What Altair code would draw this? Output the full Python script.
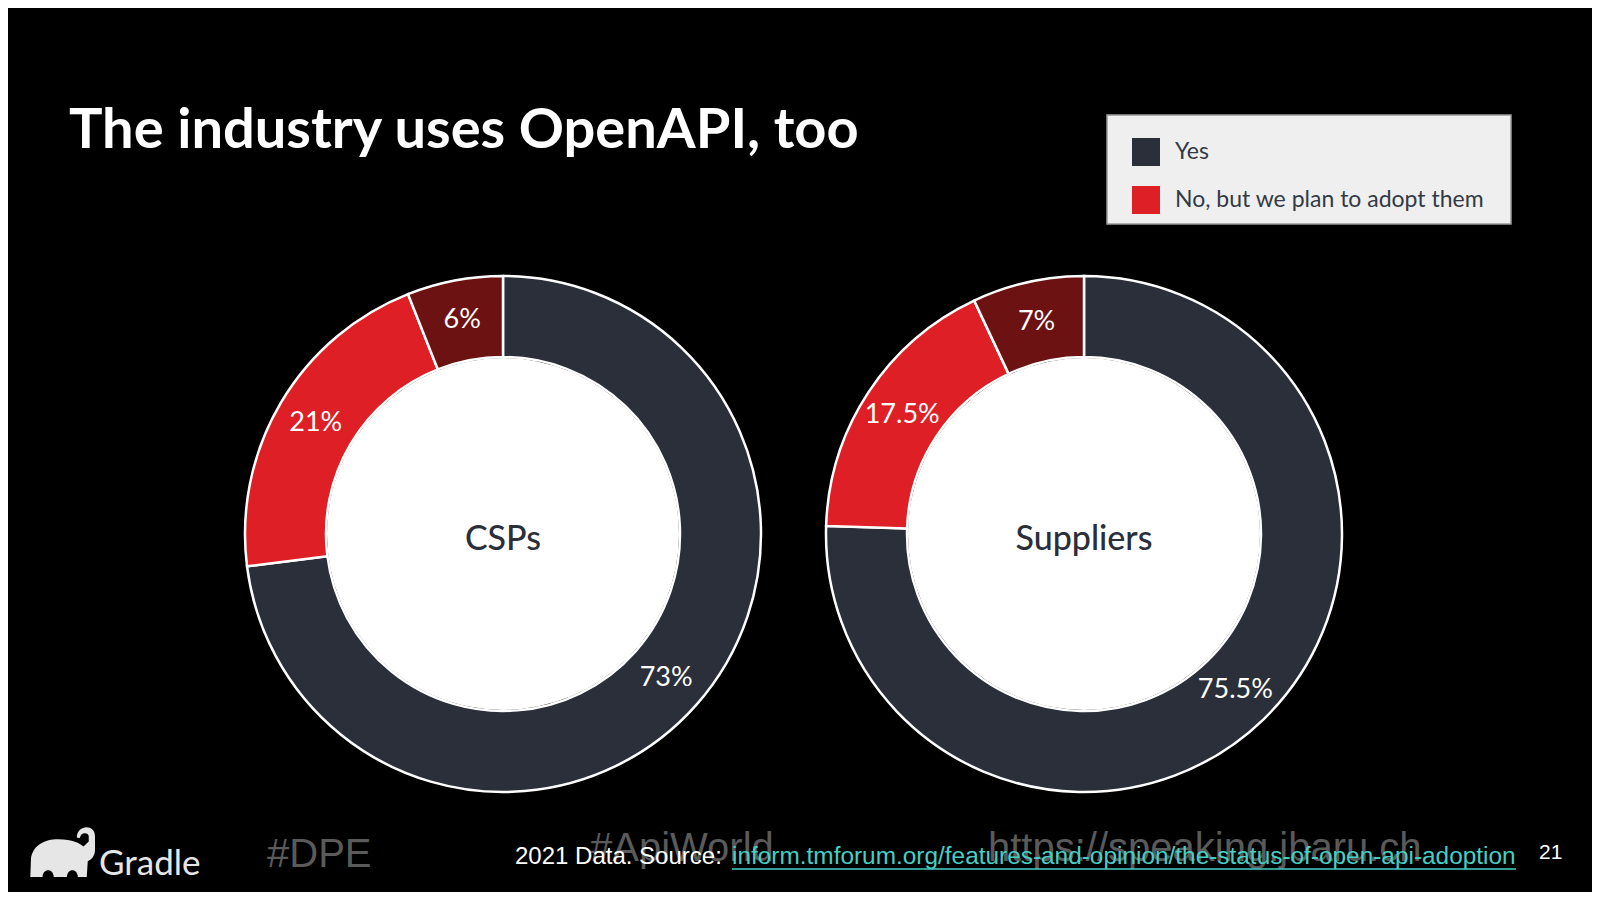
import math
import altair as alt
import pandas as pd

# ---------------- data ----------------
title_text = "The industry uses OpenAPI, too"
groups = ["CSPs", "Suppliers"]
categories = ["Yes", "No, but we plan to adopt them", "No, and no plans"]
colors = ["#2a2f3a", "#df1f26", "#6d1212"]
csp_values = [73, 21, 6]
csp_labels = ["73%", "21%", "6%"]
supplier_values = [75.5, 17.5, 7]
supplier_labels = ["75.5%", "17.5%", "7%"]

footer_brand = "Gradle"
footer_tag1 = "#DPE"
footer_tag2 = "#ApiWorld"
footer_site = "https://speaking.jbaru.ch"
footer_source = "2021 Data. Source:"
footer_link = "inform.tmforum.org/features-and-opinion/the-status-of-open-api-adoption"
page_number = "21"

rows = []
for g, vals, labs in [(groups[0], csp_values, csp_labels), (groups[1], supplier_values, supplier_labels)]:
    for i, (c, v, l) in enumerate(zip(categories, vals, labs)):
        rows.append({"group": g, "category": c, "value": v, "label": l, "order": i})
df = pd.DataFrame(rows)

W, H = 1584, 884
R_IN, R_OUT = 177, 258

color_scale = alt.Scale(domain=categories, range=colors)
legend = alt.Legend(
    values=categories[:2], orient="none", legendX=1124, legendY=130, direction="vertical",
    title=None, padding=0,
    symbolType="square", symbolSize=784, symbolStrokeWidth=0, symbolOpacity=1,
    labelFont="Lato", labelFontSize=23, labelColor="#333a45", labelOffset=15,
    rowPadding=20, labelLimit=600,
)


def one(txt, key="t"):
    return alt.Data(values=[{key: txt}])


# legend panel behind the legend entries
legend_box = alt.Chart(one("legend")).mark_rect(
    fill="#efefef", stroke="#9a9a9a", strokeWidth=1.5
).encode(x=alt.value(1099), x2=alt.value(1503), y=alt.value(107), y2=alt.value(216))


def donut(group, cx, cy):
    base = alt.Chart(df).transform_filter(alt.datum.group == group)
    arcs = base.mark_arc(innerRadius=R_IN, outerRadius=R_OUT, stroke="white", strokeWidth=2.5).encode(
        theta=alt.Theta("value:Q", stack=True, scale=alt.Scale(domain=[0, 100])),
        color=alt.Color("category:N", scale=color_scale, legend=legend),
        order=alt.Order("order:Q"),
        x=alt.value(cx), y=alt.value(cy),
    )
    hole = alt.Chart(one(group)).mark_arc(
        radius=R_IN - 1, theta=0, theta2=2 * math.pi, color="white"
    ).encode(x=alt.value(cx), y=alt.value(cy))
    center = alt.Chart(one(group)).mark_text(
        font="Lato", fontSize=34, fontWeight=500, color="#2a2f3a", baseline="middle", align="center"
    ).encode(text="t:N", x=alt.value(cx), y=alt.value(cy + 6))
    labels = base.mark_text(
        radius=(R_IN + R_OUT) / 2, font="Lato", fontSize=27, color="white",
        baseline="middle", align="center"
    ).encode(
        theta=alt.Theta("value:Q", stack=True, scale=alt.Scale(domain=[0, 100])),
        order=alt.Order("order:Q"),
        text="label:N",
        x=alt.value(cx), y=alt.value(cy),
    )
    return [arcs, hole, center, labels]


def text_layer(txt, x, y, size, color, font="Liberation Sans", weight="normal"):
    return alt.Chart(one(txt)).mark_text(
        font=font, fontSize=size, color=color, fontWeight=weight,
        align="left", baseline="alphabetic"
    ).encode(text="t:N", x=alt.value(x), y=alt.value(y))


title = text_layer(title_text, 61, 140, 56, "white", font="Lato", weight="bold")

elephant_path = (
    "M -0.99 0.73 L -0.97 0.15 C -0.9 -0.25 -0.55 -0.42 -0.15 -0.42 "
    "C 0.3 -0.42 0.5 -0.3 0.62 -0.2 L 0.78 -0.35 L 0.78 -0.5 "
    "C 0.78 -0.62 0.6 -0.62 0.55 -0.55 L 0.5 -0.45 L 0.42 -0.47 "
    "C 0.42 -0.85 0.97 -0.9 0.97 -0.5 L 0.97 -0.1 "
    "C 0.97 0.1 0.85 0.2 0.75 0.25 L 0.72 0.73 L 0.45 0.73 "
    "C 0.45 0.45 0.12 0.45 0.12 0.73 L -0.28 0.73 "
    "C -0.28 0.45 -0.62 0.45 -0.62 0.73 Z"
)
elephant = alt.Chart(one(footer_brand)).mark_point(
    shape=elephant_path, filled=True, size=66 * 66, color="#e6e6e6", opacity=1, strokeWidth=0
).encode(x=alt.value(55), y=alt.value(845))

footer = [
    elephant,
    text_layer(footer_brand, 91, 867, 35, "#e6e6e6", font="Lato"),
    text_layer(footer_tag1, 259, 859, 40, "#5a5a5a"),
    text_layer(footer_tag2, 582, 853, 40, "#5a5a5a"),
    text_layer(footer_site, 980, 853, 40, "#5a5a5a"),
    text_layer(footer_source, 507, 856, 24, "white"),
    text_layer(footer_link, 724, 856, 24.4, "#45d0c4"),
    alt.Chart(one(footer_link)).mark_rule(color="#45d0c4", strokeWidth=1.5).encode(
        x=alt.value(724), x2=alt.value(1508), y=alt.value(861)
    ),
    text_layer(page_number, 1531, 851, 21, "white"),
]

layers = [title, legend_box] + donut(groups[0], 495, 526) + donut(groups[1], 1076, 526) + footer

chart = alt.layer(*layers).properties(
    width=W, height=H, background="black", padding=0,
    autosize=alt.AutoSizeParams(type="none"),
).configure_view(strokeWidth=0)

chart.save("out.html", embed_options={"renderer": "svg", "actions": False})
